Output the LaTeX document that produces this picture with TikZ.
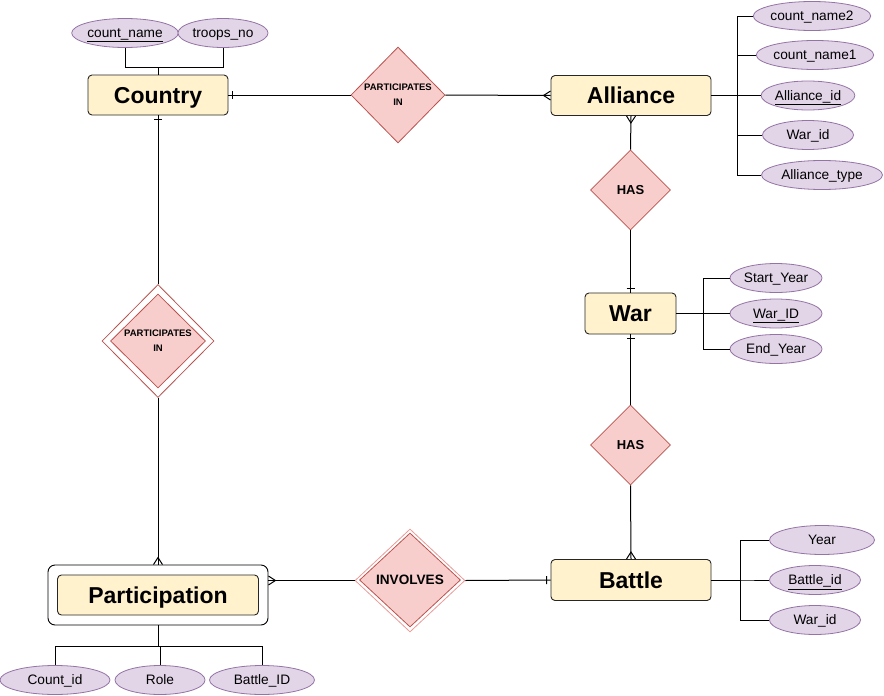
\documentclass[tikz,border=0pt]{standalone}
\usepackage{fontspec}
\setmainfont{Liberation Sans}
\usepackage{tikz}
\usetikzlibrary{positioning,shapes.geometric,decorations.markings,calc}

\definecolor{entfill}{HTML}{FFF2CC}
\definecolor{relfill}{HTML}{F8CECC}
\definecolor{reldraw}{HTML}{B85450}
\definecolor{relpale}{HTML}{EA9A97}
\definecolor{attfill}{HTML}{E1D5E7}
\definecolor{attdraw}{HTML}{9673A6}

\begin{document}
\begin{tikzpicture}[
    x=1pt, y=-1pt, line width=1pt,
    entity/.style={draw=black!85, fill=entfill, rounded corners=4pt, line width=0.9pt, inner sep=0pt, text depth=0pt, font=\fontsize{23}{26}\selectfont\bfseries},
    weakbox/.style={draw=black, fill=white, rounded corners=7pt, line width=0.9pt, inner sep=0pt},
    relation/.style={diamond, draw=reldraw, fill=relfill, line width=0.8pt, inner sep=0pt, align=center, text depth=0pt},
    attr/.style={ellipse, draw=attdraw, fill=attfill, line width=0.8pt, inner sep=0pt, minimum height=29pt, text depth=0pt, font=\fontsize{13.7}{16}\selectfont},
    onemark/.style={postaction={decorate, decoration={markings, mark=at position -4pt with {\draw[line width=1pt] (0,-4pt) -- (0,4pt);}}}},
    manymark/.style={postaction={decorate, decoration={markings, mark=at position 1 with {\draw[line width=1pt] (0,-4.5pt) -- (-7pt,0) -- (0,4.5pt);}}}}
]
\useasboundingbox (0,0) rectangle (884,696);

% Entities
\node[entity, minimum width=140, minimum height=40] (country) at (158,95) {Country};
\node[entity, minimum width=160, minimum height=40] (alliance) at (631,95.5) {Alliance};
\node[entity, minimum width=91, minimum height=41] (war) at (630.5,313.5) {War};
\node[entity, minimum width=160, minimum height=41] (battle) at (631,580) {Battle};
\node[weakbox, minimum width=220, minimum height=60] (partout) at (158,595) {};
\node[entity, minimum width=201, minimum height=40] (part) at (158,595) {Participation};

% Relationships
\node[relation, minimum width=94, minimum height=96, font=\fontsize{9.5}{15}\selectfont\bfseries] (pi1) at (398,95) {PARTICIPATES\\IN};
\node[relation, minimum width=80, minimum height=80, font=\fontsize{13}{15}\selectfont\bfseries] (has1) at (630.5,190) {HAS};
\node[relation, minimum width=80, minimum height=80, font=\fontsize{13}{15}\selectfont\bfseries] (has2) at (630.5,445) {HAS};
\node[relation, fill=white, minimum width=112, minimum height=113] (pi2out) at (158,341) {};
\node[relation, minimum width=95, minimum height=94, font=\fontsize{9.5}{15}\selectfont\bfseries] (pi2) at (158,341) {PARTICIPATES\\IN};
\node[relation, draw=relpale, fill=white, minimum width=110, minimum height=103] (invout) at (410,580.5) {};
\node[relation, minimum width=101, minimum height=94, font=\fontsize{13.6}{15}\selectfont\bfseries] (inv) at (410,580) {INVOLVES};

% Attributes
\node[attr, minimum width=90] (cname) at (125,33) {\underline{count\_name}};
\node[attr, minimum width=90] (troops) at (223,33) {troops\_no};
\node[attr, minimum width=101] (an2) at (812,16) {count\_name2};
\node[attr, minimum width=106] (an1) at (815,55) {count\_name1};
\node[attr, minimum width=91] (aid) at (808,95.5) {\underline{Alliance\_id}};
\node[attr, minimum width=91] (awid) at (808,135) {War\_id};
\node[attr, minimum width=121] (atype) at (822,175) {Alliance\_type};
\node[attr, minimum width=92] (wstart) at (776,278) {Start\_Year};
\node[attr, minimum width=92] (wid) at (776,313.5) {\underline{War\_ID}};
\node[attr, minimum width=92] (wend) at (776,349) {End\_Year};
\node[attr, minimum width=105] (byear) at (822,540) {Year};
\node[attr, minimum width=91] (bid) at (815,580) {\underline{Battle\_id}};
\node[attr, minimum width=91] (bwid) at (815,620) {War\_id};
\node[attr, minimum width=110] (pcid) at (55,680) {Count\_id};
\node[attr, minimum width=90] (prole) at (160,680) {Role};
\node[attr, minimum width=105] (pbid) at (262,680) {Battle\_ID};

% Attribute buses
\coordinate (cbus) at (158,67);
\coordinate (abus) at (737,95.5);
\coordinate (wbus) at (703,313.5);
\coordinate (bbus) at (740,580);
\coordinate (pbus) at (158,646);

\draw (country.north) -- (cbus) -| (cname.south);
\draw (cbus) -| (troops.south);
\foreach \a in {an2,an1,aid,awid,atype}
    \draw (alliance.east) -- (abus) |- (\a.west);
\foreach \a in {wstart,wid,wend}
    \draw (war.east) -- (wbus) |- (\a.west);
\foreach \a in {byear,bid,bwid}
    \draw (battle.east) -- (bbus) |- (\a.west);
\foreach \a in {pcid,prole,pbid}
    \draw (partout.south) -- (pbus) -| (\a.north);

% Relationship connectors
\draw[onemark] (pi1.west) -- (country.east);
\draw[manymark] (pi1.east) -- (alliance.west);
\draw[manymark] (has1.north) -- (alliance.south);
\draw[onemark] (has1.south) -- (war.north);
\draw[onemark] (has2.north) -- (war.south);
\draw[manymark] (has2.south) -- (battle.north);
\draw[onemark] (pi2out.north) -- (country.south);
\draw[manymark] (pi2out.south) -- (partout.north);
\draw[manymark] (invout.west) -- (partout.east |- invout.west);
\draw[onemark] (invout.east) -- (battle.west);
\end{tikzpicture}
\end{document}
